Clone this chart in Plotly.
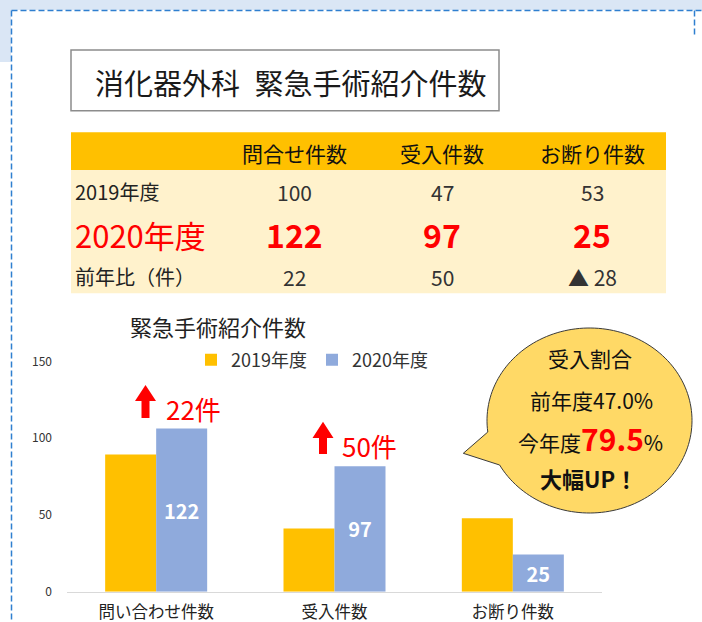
import numpy as np
import plotly.graph_objects as go

W, H = 702, 622
FONT = "Noto Sans CJK JP"

# ---------------- data ----------------
categories = ["問い合わせ件数", "受入件数", "お断り件数"]
series_names = ["2019年度", "2020年度"]
bar_2019 = [89.4, 41.2, 47.8]      # bar heights as drawn on the axis
bar_2020 = [106.3, 81.8, 24.3]
label_2020 = ["122", "97", "25"]   # data labels printed inside the 2020 bars
y_ticks = [0, 50, 100, 150]

main_title = "消化器外科\u2002緊急手術紹介件数"
chart_title = "緊急手術紹介件数"
table_header = ["問合せ件数", "受入件数", "お断り件数"]
table_row_labels = ["2019年度", "2020年度", "前年比（件）"]
table_2019 = ["100", "47", "53"]
table_2020 = ["122", "97", "25"]
table_diff = ["22", "50", "▲ 28"]
increase_labels = ["22件", "50件"]
bubble_title = "受入割合"
rate_prev = "47.0"
rate_now = "79.5"
bubble_last = "大幅UP！"

# ---------------- figure ----------------
fig = go.Figure()
fig.add_trace(go.Bar(x=categories, y=bar_2019, name=series_names[0],
                     marker=dict(color="#FFC000", line=dict(width=0)), hoverinfo="skip"))
fig.add_trace(go.Bar(x=categories, y=bar_2020, name=series_names[1],
                     marker=dict(color="#8FAADC", line=dict(width=0)), hoverinfo="skip",
                     text=label_2020, texttemplate="<b>%{text}</b>", textposition="inside",
                     insidetextanchor="middle", textangle=0,
                     textfont=dict(color="white", size=20, family=FONT)))
# invisible trace for the pixel overlay axes
fig.add_trace(go.Scatter(x=[None], y=[None], xaxis="x2", yaxis="y2", showlegend=False, hoverinfo="skip"))

x0p, x1p = 67, 602
y0p, y150p = 591.7, 361.5

fig.update_layout(
    width=W, height=H,
    margin=dict(l=0, r=0, t=0, b=0, autoexpand=False),
    paper_bgcolor="white", plot_bgcolor="rgba(0,0,0,0)",
    barmode="group", bargap=0.428, bargroupgap=0,
    xaxis=dict(domain=[x0p / W, x1p / W], showline=True, linecolor="#D9D9D9", linewidth=1.2,
               ticks="", showgrid=False, zeroline=False, fixedrange=True,
               tickfont=dict(size=16.5, color="#222222", family=FONT), ticklabelstandoff=5),
    yaxis=dict(domain=[(H - y0p) / H, (H - y150p) / H], range=[0, 150], tickvals=y_ticks,
               showgrid=False, zeroline=False, showline=False, ticks="", fixedrange=True,
               tickfont=dict(size=12, color="#333333", family=FONT), ticklabelstandoff=14),
    xaxis2=dict(domain=[0, 1], range=[0, W], visible=False, anchor="y2", fixedrange=True),
    yaxis2=dict(domain=[0, 1], range=[H, 0], visible=False, anchor="x2", fixedrange=True),
    legend=dict(orientation="h", x=191 / W, y=1 - 360 / H, xanchor="left", yanchor="middle",
                font=dict(size=18, color="#333333", family=FONT), bgcolor="rgba(0,0,0,0)",
                entrywidth=76, traceorder="normal"),
    showlegend=True,
)

shapes = []


def rect(xa, ya, xb, yb, fill, line_color=None, lw=0):
    return dict(type="rect", xref="x2", yref="y2", x0=xa, y0=ya, x1=xb, y1=yb,
                fillcolor=fill, line=dict(color=line_color or fill, width=lw), layer="below")


# light blue background strips and dashed frame
shapes.append(rect(0, 0, W, 10, "#DAE6F5"))
shapes.append(rect(0, 0, 11, 62, "#DAE6F5"))
dash_style = dict(color="#2F7FD0", width=1.5, dash="6px,3px")
shapes.append(dict(type="line", xref="x2", yref="y2", x0=11.5, y0=10.5, x1=W, y1=10.5, line=dash_style))
shapes.append(dict(type="line", xref="x2", yref="y2", x0=11.5, y0=10.5, x1=11.5, y1=H, line=dash_style))
shapes.append(dict(type="line", xref="x2", yref="y2", x0=694.5, y0=10.5, x1=694.5, y1=36, line=dash_style))

# title box
shapes.append(dict(type="rect", xref="x2", yref="y2", x0=71, y0=50, x1=499, y1=110.7,
                   fillcolor="white", line=dict(color="#8C8C8C", width=1.5)))

# table backgrounds
shapes.append(rect(71, 132.3, 666, 170, "#FFC000"))
shapes.append(rect(71, 170, 666, 293.3, "#FFF2CC"))

# red increase arrows
arrow_specs = [(145.5, 385, 401, 418), (323, 421.7, 438, 454)]
for cx, top, hb, bot in arrow_specs:
    hw, sw = 10.5, 4
    path = (f"M {cx},{top} L {cx + hw},{hb} L {cx + sw},{hb} L {cx + sw},{bot} "
            f"L {cx - sw},{bot} L {cx - sw},{hb} L {cx - hw},{hb} Z")
    shapes.append(dict(type="path", xref="x2", yref="y2", path=path,
                       fillcolor="#FF0000", line=dict(color="#FF0000", width=0)))

# speech bubble
bcx, bcy, brx, bry = 589.5, 420.5, 102.5, 92.5
tip = (463.3, 453.3)
p1y, p2y = 432.0, 465.0
t1 = np.pi - np.arcsin((p1y - bcy) / bry)
t2 = np.pi - np.arcsin((p2y - bcy) / bry)
ts = np.linspace(t2, t1 - 2 * np.pi, 160)
pts = [(bcx + brx * np.cos(t), bcy + bry * np.sin(t)) for t in ts]
path = f"M {pts[-1][0]:.2f},{pts[-1][1]:.2f} L {tip[0]},{tip[1]} "
path += " ".join(f"L {x:.2f},{y:.2f}" for x, y in pts) + " Z"
shapes.append(dict(type="path", xref="x2", yref="y2", path=path,
                   fillcolor="#FFD966", line=dict(color="#3A3A3A", width=1)))

fig.update_layout(shapes=shapes)


def txt(x, y, s, size, color="#222222", bold=False, xanchor="center"):
    fig.add_annotation(x=x, y=y, xref="x2", yref="y2", text=f"<b>{s}</b>" if bold else s,
                       showarrow=False, font=dict(family=FONT, size=size, color=color),
                       xanchor=xanchor, yanchor="middle")


# title
txt(291, 81.5, main_title, 29, "#1A1A1A")

# table
col_x = [294, 442, 592]
row_y = [191.7, 234.3, 276.7]
for cx, h in zip(col_x, table_header):
    txt(cx, 153, h, 21, "#111111")
txt(73, row_y[0], table_row_labels[0], 20, "#222222", xanchor="left")
txt(73, row_y[1], table_row_labels[1], 31, "#FF0000", xanchor="left")
txt(73, row_y[2], table_row_labels[2], 20, "#222222", xanchor="left")
for cx, v in zip(col_x, table_2019):
    txt(cx, row_y[0], v, 21, "#333333")
for cx, v in zip(col_x, table_2020):
    txt(cx, row_y[1], v, 32, "#FF0000", bold=True)
for cx, v in zip(col_x, table_diff):
    txt(cx, row_y[2], v, 21, "#333333")

# chart title
txt(218, 326, chart_title, 22, "#222222")

# increase labels
txt(193, 408, increase_labels[0], 26, "#FF0000")
txt(369, 445, increase_labels[1], 26, "#FF0000")

# bubble text
txt(590, 358, bubble_title, 21, "#111111")
txt(591, 400, f"前年度{rate_prev}%", 21, "#111111")
txt(590, 438, f"今年度<span style='color:#FF0000;font-size:30px'><b>{rate_now}</b></span>%", 21, "#111111")
txt(588, 478, bubble_last, 22, "#111111", bold=True)

fig.write_html("out.html")
